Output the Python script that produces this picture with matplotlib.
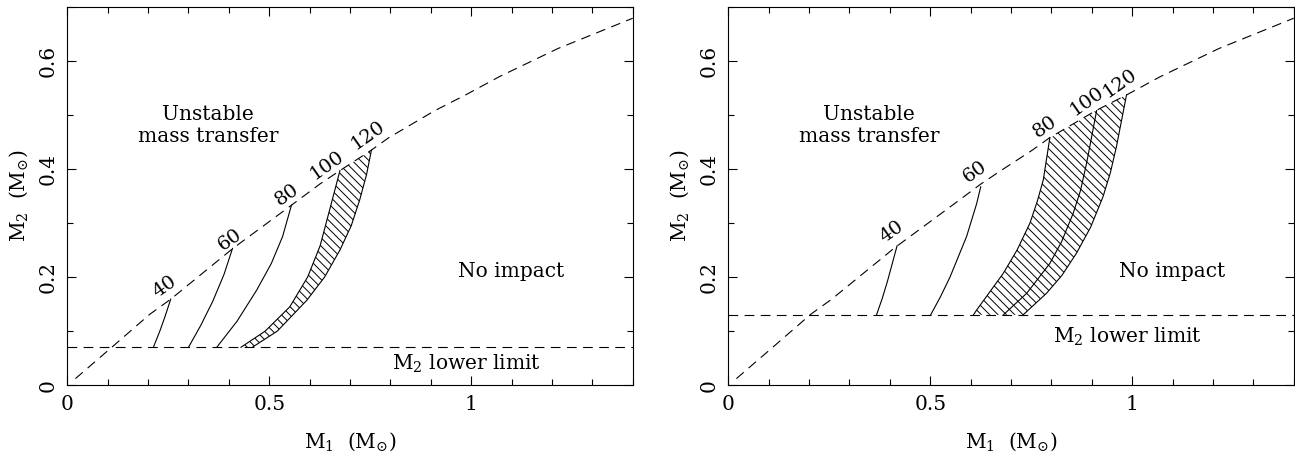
import matplotlib.pyplot as plt
import numpy as np

plt.rcParams['font.family'] = 'DejaVu Serif'
plt.rcParams['mathtext.fontset'] = 'dejavuserif'
plt.rcParams['hatch.linewidth'] = 0.7
plt.rcParams['lines.scale_dashes'] = False

# dashed upper boundary (same curve in both panels)
upper_m1 = [0.02, 0.11, 0.204, 0.256, 0.41, 0.555, 0.625, 0.675, 0.753,
            0.796, 0.91, 0.986, 1.07, 1.215, 1.4]
upper_m2 = [0.012, 0.07, 0.131, 0.159, 0.253, 0.333, 0.372, 0.397, 0.435,
            0.458, 0.508, 0.537, 0.571, 0.623, 0.679]

labels = ['40', '60', '80', '100', '120']

# left panel: M2 lower limit 0.07
left_floor = 0.07
left_m1 = [[0.213, 0.229, 0.241, 0.256],
           [0.30, 0.33, 0.36, 0.388, 0.409],
           [0.37, 0.42, 0.469, 0.505, 0.533, 0.555],
           [0.43, 0.49, 0.551, 0.595, 0.626, 0.655, 0.675],
           [0.458, 0.52, 0.593, 0.637, 0.675, 0.703, 0.724, 0.741, 0.753]]
left_m2 = [[0.07, 0.10, 0.125, 0.159],
           [0.07, 0.11, 0.155, 0.205, 0.253],
           [0.07, 0.118, 0.176, 0.225, 0.275, 0.333],
           [0.07, 0.10, 0.145, 0.20, 0.258, 0.34, 0.397],
           [0.07, 0.10, 0.157, 0.20, 0.25, 0.295, 0.343, 0.39, 0.435]]
left_lab_m1 = [0.242, 0.403, 0.543, 0.642, 0.745]
left_lab_m2 = [0.182, 0.269, 0.352, 0.407, 0.463]

# right panel: M2 lower limit 0.13
right_floor = 0.13
right_m1 = [[0.367, 0.381, 0.394, 0.406, 0.418],
            [0.501, 0.525, 0.549, 0.59, 0.615, 0.625],
            [0.607, 0.615, 0.681, 0.715, 0.747, 0.765, 0.78, 0.796],
            [0.681, 0.739, 0.796, 0.825, 0.854, 0.872, 0.887, 0.912],
            [0.73, 0.788, 0.826, 0.862, 0.897, 0.928, 0.946, 0.961, 0.986]]
right_m2 = [[0.13, 0.16, 0.192, 0.225, 0.258],
            [0.13, 0.163, 0.2, 0.275, 0.336, 0.367],
            [0.13, 0.139, 0.207, 0.25, 0.30, 0.34, 0.38, 0.457],
            [0.13, 0.17, 0.225, 0.265, 0.318, 0.36, 0.41, 0.508],
            [0.13, 0.17, 0.203, 0.244, 0.292, 0.349, 0.393, 0.441, 0.537]]
right_lab_m1 = [0.404, 0.611, 0.784, 0.887, 0.97]
right_lab_m2 = [0.284, 0.395, 0.478, 0.525, 0.559]

dash = (0, (7.0, 4.6))


def draw_panel(ax, floor, cm1, cm2, lab_m1, lab_m2, i_lo, i_hi, llim_y):
    ax.plot(upper_m1, upper_m2, color='k', lw=0.8, linestyle=dash)
    ax.axhline(floor, color='k', lw=0.8, linestyle=dash)

    for m1, m2 in zip(cm1, cm2):
        ax.plot(m1, m2, color='k', lw=0.8)

    # hatched band between the two edge curves, closed along the upper curve
    um1 = np.array(upper_m1)
    um2 = np.array(upper_m2)
    top_lo, top_hi = cm1[i_lo][-1], cm1[i_hi][-1]
    sel = (um1 > top_lo) & (um1 < top_hi)
    px = np.concatenate([cm1[i_lo], um1[sel], cm1[i_hi][::-1]])
    py = np.concatenate([cm2[i_lo], um2[sel], cm2[i_hi][::-1]])
    ax.fill(px, py, facecolor='none', edgecolor='k', hatch='\\\\\\\\', lw=0)

    for t, x, y in zip(labels, lab_m1, lab_m2):
        ax.text(x, y, t, rotation=35, ha='center', va='center', fontsize=14)

    ax.text(0.348, 0.48, 'Unstable\nmass transfer', ha='center', va='center',
            fontsize=14.5, linespacing=1.2)
    ax.text(1.10, 0.21, 'No impact', ha='center', va='center', fontsize=14.5)
    ax.text(0.987, llim_y, 'M$_2$ lower limit', ha='center', va='center',
            fontsize=14.5)

    ax.set_xlim(0, 1.4)
    ax.set_ylim(0, 0.7)
    ax.set_xticks([0, 0.5, 1])
    ax.set_xticklabels(['0', '0.5', '1'])
    ax.set_xticks(np.arange(0, 1.41, 0.1), minor=True)
    ax.set_yticks([0, 0.2, 0.4, 0.6])
    ax.set_yticklabels(['0', '0.2', '0.4', '0.6'], rotation=90, va='center')
    ax.set_yticks(np.arange(0, 0.71, 0.1), minor=True)
    ax.tick_params(which='both', direction='in', top=True, right=True,
                   width=0.8, labelsize=14.5)
    ax.tick_params(which='major', length=6.5)
    ax.tick_params(which='minor', length=4.5)
    ax.tick_params(axis='x', pad=7)
    ax.tick_params(axis='y', pad=7)
    for s in ax.spines.values():
        s.set_linewidth(0.8)
    ax.set_xlabel('M$_1$  (M$_{⊙}$)', fontsize=14.5, labelpad=12)
    ax.set_ylabel('M$_2$  (M$_{⊙}$)', fontsize=14.5, labelpad=6)


fig = plt.figure(figsize=(12.95, 4.59), dpi=100)
ax1 = fig.add_axes([0.052, 0.161, 0.4366, 0.824])
ax2 = fig.add_axes([0.5624, 0.161, 0.4366, 0.824])

draw_panel(ax1, left_floor, left_m1, left_m2, left_lab_m1, left_lab_m2, 3, 4, 0.04)
draw_panel(ax2, right_floor, right_m1, right_m2, right_lab_m1, right_lab_m2, 2, 4, 0.089)

fig.savefig('out.png', dpi=100)
